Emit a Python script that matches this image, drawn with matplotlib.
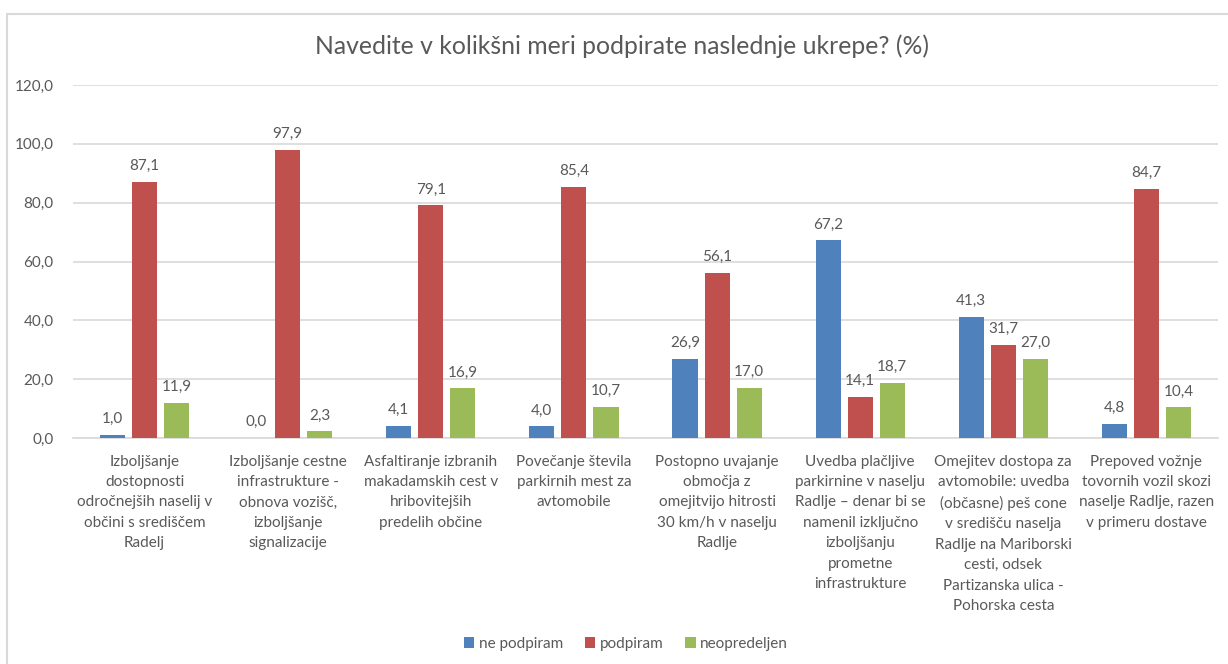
import matplotlib.pyplot as plt
import numpy as np
from matplotlib.patches import Rectangle

plt.rcParams['font.family'] = ['Lato', 'DejaVu Sans']

categories = [
    "Izboljšanje\ndostopnosti\nodročnejših naselij v\nobčini s središčem\nRadelj",
    "Izboljšanje cestne\ninfrastrukture -\nobnova vozišč,\nizboljšanje\nsignalizacije",
    "Asfaltiranje izbranih\nmakadamskih cest v\nhribovitejših\npredelih občine",
    "Povečanje števila\nparkirnih mest za\navtomobile",
    "Postopno uvajanje\nobmočja z\nomejitvijo hitrosti\n30 km/h v naselju\nRadlje",
    "Uvedba plačljive\nparkirnine v naselju\nRadlje – denar bi se\nnamenil izključno\nizboljšanju\nprometne\ninfrastrukture",
    "Omejitev dostopa za\navtomobile: uvedba\n(občasne) peš cone\nv središču naselja\nRadlje na Mariborski\ncesti, odsek\nPartizanska ulica -\nPohorska cesta",
    "Prepoved vožnje\ntovornih vozil skozi\nnaselje Radlje, razen\nv primeru dostave",
]
ne_podpiram = [1.0, 0.0, 4.1, 4.0, 26.9, 67.2, 41.3, 4.8]
podpiram = [87.1, 97.9, 79.1, 85.4, 56.1, 14.1, 31.7, 84.7]
neopredeljen = [11.9, 2.3, 16.9, 10.7, 17.0, 18.7, 27.0, 10.4]

series = [
    ("ne podpiram", ne_podpiram, "#4f81bd"),
    ("podpiram", podpiram, "#c0504d"),
    ("neopredeljen", neopredeljen, "#9bbb59"),
]

text_color = "#595959"
grid_color = "#d9d9d9"

fig = plt.figure(figsize=(12.28, 6.64), dpi=100)
ax = fig.add_axes([73 / 1228, 1 - 438 / 664, 1145 / 1228, 353 / 664])

# outer chart frame
fig.patches.append(Rectangle((7 / 1228, -0.05), 1.1, 1 - 14 / 664 + 0.05,
                             transform=fig.transFigure, fill=False,
                             edgecolor=grid_color, linewidth=1.5))

x = np.arange(len(categories))
width = 0.175
step = 0.224

for i, (name, values, color) in enumerate(series):
    pos = x + (i - 1) * step
    ax.bar(pos, values, width, color=color, label=name, zorder=3)
    for px, v in zip(pos, values):
        ax.text(px, v + 3, f"{v:.1f}".replace(".", ","), ha="center",
                va="bottom", fontsize=11, color=text_color)

ax.set_xlim(-0.5, len(categories) - 0.5)
ax.set_ylim(0, 120)
ax.set_yticks(np.arange(0, 121, 20))
ax.set_yticklabels([f"{t:.1f}".replace(".", ",") for t in np.arange(0, 121, 20)])
ax.yaxis.grid(True, color=grid_color, linewidth=1.2, zorder=0)
ax.set_axisbelow(True)
for s in ["top", "right", "left"]:
    ax.spines[s].set_visible(False)
ax.spines["bottom"].set_color(grid_color)
ax.spines["bottom"].set_linewidth(1.2)
ax.tick_params(axis="y", length=0, labelsize=11, labelcolor=text_color, pad=14)
ax.tick_params(axis="x", length=0, labelsize=11, labelcolor=text_color, pad=12)
ax.set_xticks(x)
ax.set_xticklabels(categories, linespacing=1.58, va="top")

fig.text(622 / 1228, 1 - 46 / 664, "Navedite v kolikšni meri podpirate naslednje ukrepe? (%)",
         ha="center", va="center", fontsize=17.8, color=text_color)

fig.legend(loc="center", bbox_to_anchor=(626 / 1228, 1 - 644 / 664), ncol=3,
           frameon=False, fontsize=11, labelcolor=text_color, handlelength=0.7,
           handleheight=0.7, handletextpad=0.3, columnspacing=1.4)

fig.savefig("out.png", dpi=100)
